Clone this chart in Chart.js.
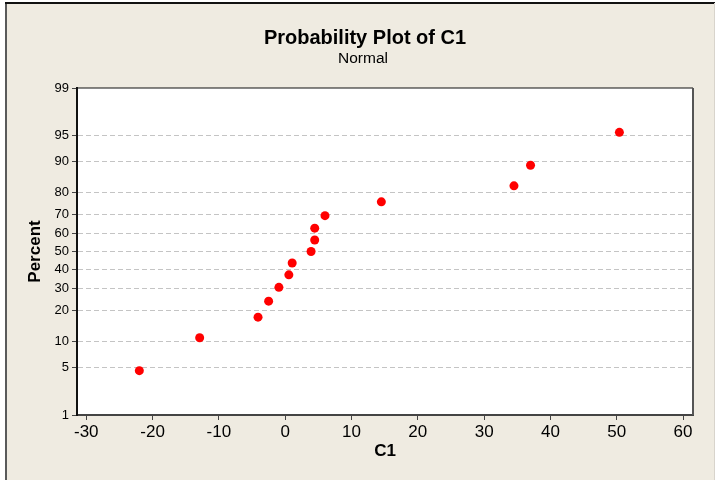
<!DOCTYPE html>
<html>
<head>
<meta charset="utf-8">
<script src="https://cdn.jsdelivr.net/npm/chart.js@4.4.0/dist/chart.umd.min.js"></script>
<style>
  html, body { margin: 0; padding: 0; background: #ffffff; }
  #wrap { width: 715px; height: 480px; position: relative; }
</style>
</head>
<body>
<div id="wrap"><canvas id="myChart" width="715" height="480"></canvas></div>
<script>
'use strict';
// sample values of C1 and their plotted percent
let c1Values = [-22, -12.9, -4.1, -2.5, -0.95, 0.55, 1.05, 3.9, 4.45, 4.45, 6.0, 14.5, 34.5, 37.0, 50.4];
let percentValues = [4.5, 11.0, 17.5, 24.0, 30.5, 37.0, 43.5, 50.0, 56.5, 63.0, 69.5, 76.0, 82.5, 89.0, 95.5];
let percentTicks = [1, 5, 10, 20, 30, 40, 50, 60, 70, 80, 90, 95, 99];
let xTicks = [-30, -20, -10, 0, 10, 20, 30, 40, 50, 60];

// inverse normal cdf (Acklam)
function probit(p){
    let a = [-39.69683028665376, 220.9460984245205, -275.9285104469687, 138.3577518672690, -30.66479806614716, 2.506628277459239];
    let b = [-54.47609879822406, 161.5858368580409, -155.6989798598866, 66.80131188771972, -13.28068155288572];
    let c = [-0.007784894002430293, -0.3223964580411365, -2.400758277161838, -2.549732539343734, 4.374664141464968, 2.938163982698783];
    let d = [0.007784695709041462, 0.3224671290700398, 2.445134137142996, 3.754408661907416];
    let plow = 0.02425, q, r;
    if (p < plow){
        q = Math.sqrt(-2 * Math.log(p));
        return (((((c[0]*q+c[1])*q+c[2])*q+c[3])*q+c[4])*q+c[5]) / ((((d[0]*q+d[1])*q+d[2])*q+d[3])*q+1);
    }
    if (p > 1 - plow){
        q = Math.sqrt(-2 * Math.log(1 - p));
        return -(((((c[0]*q+c[1])*q+c[2])*q+c[3])*q+c[4])*q+c[5]) / ((((d[0]*q+d[1])*q+d[2])*q+d[3])*q+1);
    }
    q = p - 0.5;
    r = q * q;
    return (((((a[0]*r+a[1])*r+a[2])*r+a[3])*r+a[4])*r+a[5])*q / (((((b[0]*r+b[1])*r+b[2])*r+b[3])*r+b[4])*r+1);
}

let points = [];
for (let i = 0; i < c1Values.length; i++){
    points.push({x: c1Values[i], y: probit(percentValues[i] / 100)});
}

let frame = {
    id: 'frame',
    beforeDraw(chart){
        let ctx = chart.ctx;
        let a = chart.chartArea;
        ctx.save();
        ctx.fillStyle = '#ffffff';
        ctx.fillRect(0, 0, chart.width, chart.height);
        ctx.fillStyle = '#efebe1';
        ctx.fillRect(6, 3, chart.width - 6, chart.height - 3);
        ctx.fillStyle = '#5a5a5a';
        ctx.fillRect(5, 2, 2, chart.height - 2);
        ctx.fillStyle = '#111111';
        ctx.fillRect(5, 2, chart.width - 5, 2);
        ctx.fillStyle = '#d8d4cc';
        ctx.fillRect(chart.width - 1, 3, 1, chart.height - 3);
        ctx.fillStyle = '#ffffff';
        ctx.fillRect(a.left, a.top, a.right - a.left, a.bottom - a.top);
        ctx.restore();
    },
    afterDraw(chart){
        let ctx = chart.ctx;
        let a = chart.chartArea;
        ctx.save();
        ctx.fillStyle = '#111111';
        ctx.fillRect(a.left, a.top - 0.5, a.right - a.left, 1);
        ctx.fillStyle = '#555555';
        ctx.fillRect(a.right - 1, a.top, 2, a.bottom - a.top);
        ctx.fillStyle = '#000000';
        ctx.textAlign = 'center';
        ctx.textBaseline = 'alphabetic';
        ctx.font = 'bold 20px "Liberation Sans"';
        ctx.fillText('Probability Plot of C1', 365, 44);
        ctx.font = '15.5px "Liberation Sans"';
        ctx.fillText('Normal', 363, 63);
        ctx.restore();
    }
};

let ctx = document.getElementById('myChart').getContext('2d');
let myChart = new Chart(ctx, {
    type: 'scatter',
    data: {
        datasets: [{
            label: 'C1',
            data: points,
            backgroundColor: '#ff0000',
            borderWidth: 0,
            pointRadius: 4.5,
            pointHoverRadius: 4.5
        }]
    },
    options: {
        responsive: false,
        animation: false,
        layout: { padding: { left: 7, right: 22, top: 88, bottom: 0 } },
        plugins: {
            legend: { display: false },
            tooltip: { enabled: false }
        },
        scales: {
            x: {
                type: 'linear',
                min: -31.4,
                max: 61.5,
                afterBuildTicks: function(scale){
                    scale.ticks = xTicks.map(v => ({value: v}));
                },
                afterFit: function(scale){ scale.height = 65; },
                ticks: {
                    color: '#000000',
                    font: { family: 'Liberation Sans', size: 17 },
                    padding: 2,
                    maxRotation: 0,
                    callback: function(value){ return value; }
                },
                grid: { drawOnChartArea: false, tickLength: 5, tickColor: '#444444', tickWidth: 1 },
                border: { color: '#444444', width: 2 },
                title: {
                    display: true,
                    text: 'C1',
                    color: '#000000',
                    font: { family: 'Liberation Sans', size: 17, weight: 'bold' },
                    align: 'center',
                    padding: { top: 0, bottom: 18 }
                }
            },
            y: {
                type: 'linear',
                min: probit(0.01),
                max: probit(0.99),
                afterBuildTicks: function(scale){
                    scale.ticks = percentTicks.map(p => ({value: probit(p / 100)}));
                },
                afterFit: function(scale){ scale.width = 70; },
                ticks: {
                    color: '#000000',
                    font: { family: 'Liberation Sans', size: 13 },
                    padding: 3,
                    callback: function(value, index){ return percentTicks[index]; }
                },
                grid: {
                    color: function(c){
                        return (c.index === 0 || c.index === percentTicks.length - 1) ? 'rgba(0,0,0,0)' : '#c4c4c4';
                    },
                    lineWidth: 1,
                    tickLength: 5,
                    tickColor: '#444444',
                    tickWidth: 1,
                    tickBorderDash: []
                },
                border: { color: '#111111', width: 2, dash: [5, 3] },
                title: {
                    display: true,
                    text: 'Percent',
                    color: '#000000',
                    font: { family: 'Liberation Sans', size: 17, weight: 'bold' },
                    padding: { top: 18, bottom: 0 }
                }
            }
        }
    },
    plugins: [frame]
});
</script>
</body>
</html>
